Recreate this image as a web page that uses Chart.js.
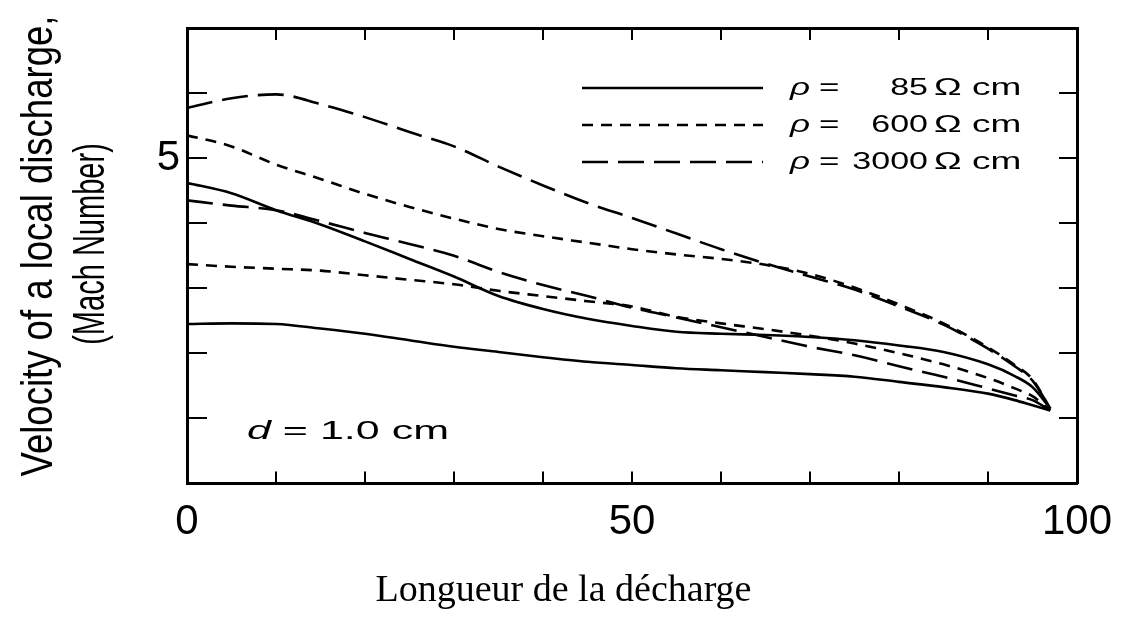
<!DOCTYPE html>
<html>
<head>
<meta charset="utf-8">
<title>Velocity of a local discharge</title>
<script src="https://cdn.jsdelivr.net/npm/chart.js@4.4.1/dist/chart.umd.min.js"></script>
<style>
  html,body{margin:0;padding:0;background:#fff;}
  canvas{display:block;}
</style>
</head>
<body>
<canvas id="chart" width="1127" height="625"></canvas>
<script>
// position along the discharge (%)
const xs = [0, 5, 10, 15, 20, 25, 30, 35, 40, 45, 50, 55, 60, 65, 70, 75, 80, 85, 90, 93, 95, 97];

// Mach number, two runs per resistivity
const rho85Upper   = [4.62, 4.46, 4.20, 3.98, 3.72, 3.45, 3.18, 2.88, 2.68, 2.53, 2.42, 2.33, 2.30, 2.28, 2.25, 2.20, 2.12, 2.02, 1.83, 1.65, 1.48, 1.15];
const rho85Lower   = [2.45, 2.46, 2.45, 2.38, 2.30, 2.20, 2.10, 2.02, 1.94, 1.87, 1.82, 1.77, 1.74, 1.71, 1.68, 1.64, 1.56, 1.48, 1.38, 1.28, 1.20, 1.12];
const rho600Upper  = [5.35, 5.18, 4.90, 4.68, 4.45, 4.25, 4.07, 3.91, 3.80, 3.70, 3.60, 3.52, 3.45, 3.36, 3.22, 3.01, 2.75, 2.46, 2.09, 1.82, 1.60, 1.15];
const rho600Lower  = [3.37, 3.33, 3.30, 3.27, 3.20, 3.13, 3.06, 2.96, 2.88, 2.80, 2.72, 2.56, 2.46, 2.37, 2.27, 2.15, 2.00, 1.83, 1.62, 1.46, 1.34, 1.12];
const rho3000Upper = [5.77, 5.92, 5.98, 5.83, 5.63, 5.40, 5.18, 4.87, 4.58, 4.31, 4.08, 3.84, 3.60, 3.38, 3.18, 2.98, 2.72, 2.44, 2.07, 1.80, 1.58, 1.15];
const rho3000Lower = [4.35, 4.27, 4.20, 4.03, 3.85, 3.68, 3.50, 3.25, 3.05, 2.88, 2.70, 2.55, 2.40, 2.25, 2.10, 1.97, 1.80, 1.64, 1.46, 1.35, 1.28, 1.12];

const rhoValues = ['85', '600', '3000'];
const xLabelValues = [0, 50, 100];
const yLabelValues = [5];
const yTitleLines = ['Velocity of a local discharge,', '(Mach Number)'];
const xTitle = 'Longueur de la décharge';
const note = ['d', ' = 1.0 cm'];

const sans = '"Liberation Sans", Arial, Helvetica, sans-serif';
const serif = '"Liberation Serif", "Times New Roman", serif';
const shortDash = [11, 8];
const longDash = [26, 10];

Chart.defaults.color = '#000';

const pts = ys => xs.map((x, i) => ({x: x, y: ys[i]}));

function curve(ys, dash, legendRow) {
  return {
    data: pts(ys),
    borderColor: '#000',
    borderWidth: 2.6,
    borderDash: dash,
    pointRadius: 0,
    cubicInterpolationMode: 'monotone',
    fill: false,
    legendRow: legendRow
  };
}

// text drawn squashed vertically, like the scanned lettering
function squeezed(ctx, text, x, y, font, align, sy) {
  ctx.save();
  ctx.translate(x, y);
  ctx.scale(1, sy);
  ctx.font = font;
  ctx.textAlign = align;
  ctx.textBaseline = 'middle';
  ctx.fillText(text, 0, 0);
  const w = ctx.measureText(text).width;
  ctx.restore();
  return w;
}

const figureText = {
  id: 'figureText',
  afterDraw(chart) {
    const ctx = chart.ctx;
    ctx.save();
    ctx.fillStyle = '#000';

    // y title, two rotated lines
    const yPos = [[52, 246, 0.83], [104, 244, 0.66]];
    yTitleLines.forEach((line, i) => {
      const [bx, cy, sx] = yPos[i];
      ctx.save();
      ctx.translate(bx, cy);
      ctx.rotate(-Math.PI / 2);
      ctx.scale(sx, 1);
      ctx.font = '44px ' + sans;
      ctx.textAlign = 'center';
      ctx.textBaseline = 'alphabetic';
      ctx.fillText(line, 0, 0);
      ctx.restore();
    });

    // legend: one row per resistivity
    chart.data.datasets.forEach(ds => {
      if (ds.legendRow === undefined) return;
      const y = 88 + ds.legendRow * 37;
      ctx.save();
      ctx.strokeStyle = ds.borderColor;
      ctx.lineWidth = ds.borderWidth;
      ctx.setLineDash(ds.borderDash);
      ctx.beginPath();
      ctx.moveTo(582, y);
      ctx.lineTo(763, y);
      ctx.stroke();
      ctx.restore();
      squeezed(ctx, 'ρ', 790, y, 'italic 35px ' + sans, 'left', 0.7);
      squeezed(ctx, '=', 819, y, '35px ' + sans, 'left', 0.7);
      squeezed(ctx, rhoValues[ds.legendRow], 928, y, '34px ' + sans, 'right', 0.7);
      squeezed(ctx, 'Ω cm', 934, y, '37px ' + sans, 'left', 0.66);
    });

    // electrode gap
    const w = squeezed(ctx, note[0], 247, 432, 'italic 43px ' + sans, 'left', 0.62);
    squeezed(ctx, note[1], 247 + w, 432, '43px ' + sans, 'left', 0.62);

    ctx.restore();
  }
};

const tickGrid = len => ({
  drawOnChartArea: false,
  drawTicks: true,
  tickLength: len,
  color: '#000',
  lineWidth: 2
});
const frame = {display: true, color: '#000', width: 3};

new Chart(document.getElementById('chart'), {
  type: 'line',
  data: {
    datasets: [
      curve(rho85Upper, [], 0),
      curve(rho85Lower, []),
      curve(rho600Upper, shortDash, 1),
      curve(rho600Lower, shortDash),
      curve(rho3000Upper, longDash, 2),
      curve(rho3000Lower, longDash)
    ]
  },
  options: {
    responsive: false,
    animation: false,
    layout: {padding: 0},
    plugins: {
      legend: {display: false},
      tooltip: {enabled: false},
      title: {
        display: true,
        position: 'bottom',
        text: xTitle,
        color: '#000',
        font: {family: serif, size: 38, weight: 'normal'},
        padding: {top: 8, bottom: 11}
      }
    },
    scales: {
      x: {
        type: 'linear', position: 'bottom', min: 0, max: 100,
        ticks: {
          stepSize: 10, autoSkip: false, maxRotation: 0, padding: 26,
          font: {family: sans, size: 42},
          callback: v => xLabelValues.includes(v) ? String(v) : ''
        },
        grid: tickGrid(-12),
        border: frame,
        afterFit: s => { s.height = 77; s.paddingLeft = 0; s.paddingRight = 0; }
      },
      x2: {
        type: 'linear', position: 'top', min: 0, max: 100,
        ticks: {stepSize: 10, display: false},
        grid: tickGrid(-12),
        border: frame,
        afterFit: s => { s.height = 28; s.paddingLeft = 0; s.paddingRight = 0; }
      },
      y: {
        type: 'linear', position: 'left', min: 0, max: 7,
        ticks: {
          stepSize: 1, autoSkip: false, padding: 27,
          font: {family: sans, size: 42},
          callback: v => yLabelValues.includes(v) ? String(v) : ''
        },
        grid: tickGrid(-20),
        border: frame,
        afterFit: s => { s.width = 187; s.paddingTop = 0; s.paddingBottom = 0; }
      },
      y2: {
        type: 'linear', position: 'right', min: 0, max: 7,
        ticks: {stepSize: 1, display: false},
        grid: tickGrid(-18),
        border: frame,
        afterFit: s => { s.width = 50; s.paddingTop = 0; s.paddingBottom = 0; }
      }
    }
  },
  plugins: [figureText]
});
</script>
</body>
</html>
